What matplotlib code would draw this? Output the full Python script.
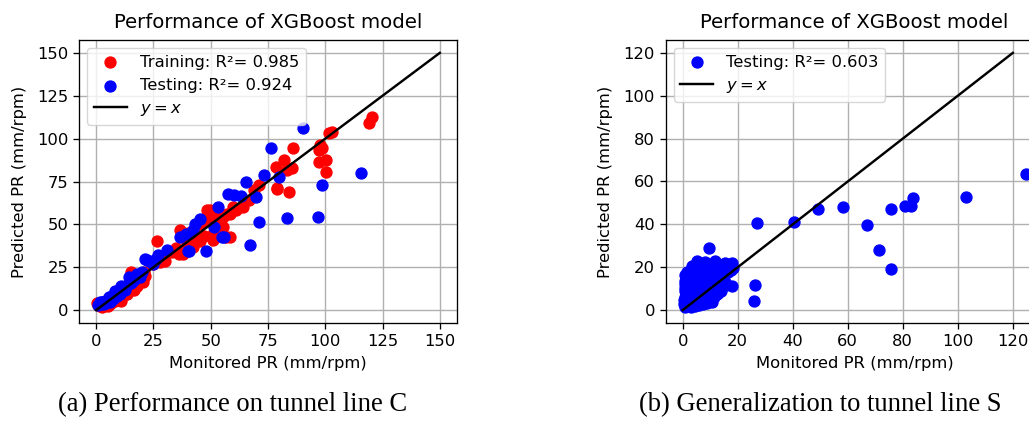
import matplotlib
matplotlib.use("Agg")
import matplotlib.pyplot as plt
import numpy as np

# ---------------- data ----------------
# (a) tunnel line C : training set
train_x = [0.5, 1.0, 1.5, 2.0, 2.5, 3.0, 3.5, 4.0, 4.5, 5.0, 5.5, 6.0, 6.5, 7.0, 7.5,
           8.0, 8.5, 9.0, 9.5, 10.0, 10.5, 11.0, 11.5, 12.0, 12.5, 13.0, 13.5, 14.0,
           14.5, 15.0, 15.5, 16.0, 16.5, 17.0, 17.5, 18.0, 18.5, 19.0, 19.5, 20.0,
           20.5, 21.0, 21.5, 15.2, 16.0,
           26.5, 28.0, 30.0, 27.0, 25.0, 33.0, 35.0, 36.0, 36.5, 37.9, 39.4, 39.8,
           40.0, 41.0, 42.3, 43.0, 44.0, 45.2, 45.2, 47.0, 48.1, 48.5, 49.5, 50.9,
           51.0, 52.4, 52.9, 55.3, 55.3, 56.7, 57.2, 58.2, 58.2, 59.6, 61.1, 63.9,
           66.8, 69.0, 71.2,
           78.4, 79.1, 79.1, 82.0, 83.4, 84.2, 85.6, 85.9, 97.2, 97.9, 98.6, 97.2,
           100.1, 100.1, 101.5, 103.0, 118.9, 120.3]
train_y = [4.0, 3.0, 2.5, 3.5, 2.0, 3.0, 2.5, 4.5, 3.0, 2.5, 4.0, 3.5, 5.0, 4.5, 6.0,
           5.5, 7.0, 6.5, 8.0, 7.0, 9.0, 5.5, 10.0, 9.0, 11.0, 10.5, 9.5, 12.0,
           13.5, 11.5, 14.0, 12.5, 11.5, 15.0, 16.5, 14.0, 18.0, 17.0, 21.0, 19.5,
           16.5, 22.5, 20.0, 22.2, 20.0,
           40.5, 28.0, 28.5, 30.5, 27.0, 34.0, 36.5, 33.0, 46.5, 32.8, 42.5, 38.5,
           45.0, 41.0, 36.7, 44.0, 42.5, 40.6, 50.4, 43.0, 52.3, 58.2, 58.2, 44.5,
           41.0, 52.3, 54.3, 54.2, 48.4, 42.5, 56.3, 56.2, 42.5, 60.1, 58.2, 60.1,
           64.0, 69.9, 72.8,
           83.5, 71.5, 70.9, 87.5, 81.6, 68.9, 82.6, 94.3, 86.5, 96.3, 94.3, 93.3,
           87.5, 80.6, 103.1, 104.0, 109.0, 112.8]

# (a) tunnel line C : testing set
test_x = [1.0, 1.5, 2.0, 2.5, 3.0, 3.5, 4.0, 4.5, 5.0, 5.5, 6.0, 6.5, 7.0, 7.5, 8.0,
          8.2, 9.0, 9.5, 10.0, 10.5, 11.0, 11.5, 12.0, 12.5, 13.0, 14.0, 14.5, 15.0,
          16.0, 17.0, 18.0, 19.0, 20.0, 21.5, 22.3, 23.0, 25.0, 25.9, 27.2, 31.0,
          36.5, 39.4, 40.1, 40.5, 42.3, 43.0, 45.2, 48.1, 51.4, 53.1, 55.0, 55.8,
          57.4, 60.3, 63.2, 65.4, 67.3, 69.7, 71.2, 73.3, 76.2, 79.8, 83.4, 90.2,
          96.9, 98.6, 115.5]
test_y = [3.0, 4.5, 3.5, 4.5, 5.0, 3.5, 5.5, 4.5, 6.0, 7.5, 5.0, 7.0, 8.0, 6.5, 9.0,
          11.4, 8.5, 10.0, 11.0, 9.5, 14.3, 12.0, 13.0, 11.5, 14.0, 15.0, 19.2, 16.0,
          17.0, 18.0, 21.0, 19.5, 22.0, 30.0, 29.0, 28.9, 27.0, 29.9, 32.0, 34.8,
          42.5, 44.5, 34.7, 34.4, 46.5, 50.4, 53.3, 34.7, 48.4, 60.1, 42.9, 42.6,
          68.0, 67.0, 66.4, 74.8, 38.1, 66.0, 51.3, 78.7, 94.3, 77.7, 53.9, 106.0,
          54.2, 72.8, 79.7]

# (b) tunnel line S : generalization set
gen_x = [1.5, 2.5, 3.5, 4.5, 5.5, 6.5, 7.5, 8.5, 9.5, 10.5, 11.5, 12.5, 13.5, 14.5,
         15.5, 16.5, 17.5, 18.2,
         5.2, 8.2, 11.9, 15.5, 17.9, 3.5, 10.0, 13.8, 6.8,
         1.0, 2.0, 3.0, 4.0, 5.0, 6.0, 7.0, 8.0, 9.0, 10.0, 11.0, 12.0,
         1.2, 2.5, 4.0, 5.5, 7.0, 8.5, 10.0, 11.5, 13.0,
         1.0, 2.0, 3.0, 4.2, 5.5, 6.8, 8.0, 9.2, 10.5, 11.8, 13.0, 14.5,
         1.0, 2.3, 3.6, 5.0, 6.5, 8.0, 9.5, 11.0, 12.5, 15.5,
         1.0, 2.0, 3.0, 4.2, 5.5, 6.8, 8.0, 9.2, 10.5, 12.0, 13.5, 15.0,
         1.0, 2.2, 3.5, 4.8, 6.0, 7.5, 9.0, 10.5, 12.0, 14.0, 15.8,
         0.8, 1.8, 3.0, 4.0, 5.0, 6.5, 8.0, 9.5, 11.0, 12.5, 14.0,
         0.6, 1.5, 2.5, 3.5, 4.5, 5.5, 7.0, 8.5, 10.0, 11.5, 13.0,
         1.0, 2.0, 3.0, 4.5, 6.0, 7.5, 9.0, 10.5,
         0.5, 1.5, 3.0, 5.0,
         9.7, 18.0, 26.3, 25.9, 26.9, 40.3, 49.2, 58.2, 66.9, 71.3, 75.8, 75.6,
         80.7, 82.9, 83.7, 103.1, 124.9]
gen_y = [18.0, 18.0, 18.0, 18.0, 18.0, 18.0, 18.0, 18.0, 18.0, 18.0, 18.0, 18.0,
         18.0, 18.0, 18.0, 18.0, 18.5, 19.5,
         22.9, 22.4, 22.9, 21.8, 22.0, 20.5, 20.5, 20.8, 21.0,
         16.5, 16.5, 16.5, 16.5, 16.5, 16.5, 16.5, 16.5, 16.5, 16.5, 16.5, 16.5,
         15.0, 15.0, 15.0, 15.0, 15.0, 15.0, 15.0, 15.0, 16.0,
         13.5, 13.5, 13.5, 13.5, 13.5, 13.5, 13.5, 13.5, 14.0, 14.0, 14.5, 15.0,
         12.0, 12.0, 12.0, 12.0, 12.0, 12.0, 12.5, 13.0, 13.5, 13.0,
         10.5, 10.5, 10.5, 10.5, 10.5, 10.5, 11.0, 11.5, 11.5, 12.0, 12.0, 12.5,
         9.0, 9.0, 9.0, 9.0, 9.5, 10.0, 10.5, 10.0, 11.0, 11.0, 11.5,
         6.0, 6.0, 6.5, 7.0, 7.0, 7.5, 7.5, 8.0, 8.0, 7.5, 9.0,
         3.0, 3.5, 4.0, 4.5, 4.0, 4.5, 5.0, 5.5, 5.5, 6.0, 8.0,
         1.5, 2.0, 2.5, 2.0, 2.5, 3.0, 3.5, 4.0,
         4.5, 5.0, 1.5, 5.5,
         29.2, 11.1, 11.9, 4.1, 40.8, 41.3, 47.0, 48.1, 39.5, 28.0, 19.2, 47.3,
         48.6, 48.6, 52.5, 53.0, 63.4]

line_a = [0, 150]
line_b = [0, 120]

label_train = "Training: R\u00b2= 0.985"
label_test = "Testing: R\u00b2= 0.924"
label_gen = "Testing: R\u00b2= 0.603"
title = "Performance of XGBoost model"
xlab = "Monitored PR (mm/rpm)"
ylab = "Predicted PR (mm/rpm)"
cap_a = "(a) Performance on tunnel line C"
cap_b = "(b) Generalization to tunnel line S"

# ---------------- figure ----------------
W, H = 1029, 422
fig = plt.figure(figsize=(W / 100, H / 100), dpi=100)

FS = 11.8
plt.rcParams.update({
    "font.family": ["DejaVu Sans"],
    "xtick.labelsize": FS, "ytick.labelsize": FS,
    "xtick.major.size": 4.1, "ytick.major.size": 4.1,
    "xtick.major.width": 0.95, "ytick.major.width": 0.95,
    "axes.linewidth": 0.95,
})

def px_axes(left, top, right, bottom):
    return fig.add_axes([left / W, 1 - bottom / H, (right - left) / W, (bottom - top) / H])

ms = 62
ax1 = px_axes(79, 40, 457, 323)
ax1.scatter(train_x, train_y, s=ms, c="red", label=label_train, zorder=2)
ax1.scatter(test_x, test_y, s=ms, c="blue", label=label_test, zorder=2)
ax1.plot(line_a, line_a, color="black", lw=1.75, label="$y=x$", zorder=3)
ax1.set_xticks([0, 25, 50, 75, 100, 125, 150])
ax1.set_yticks([0, 25, 50, 75, 100, 125, 150])

ax2 = px_axes(665.5, 40, 1043.5, 323)
ax2.scatter(gen_x, gen_y, s=ms, c="blue", label=label_gen, zorder=2)
ax2.plot(line_b, line_b, color="black", lw=1.75, label="$y=x$", zorder=3)
ax2.set_xticks([0, 20, 40, 60, 80, 100, 120])
ax2.set_yticks([0, 20, 40, 60, 80, 100, 120])

for ax in (ax1, ax2):
    ax.grid(True, color="#b0b0b0", lw=1.0)
    ax.set_axisbelow(True)
    ax.set_title(title, fontsize=14.2, pad=8.5)
    ax.set_xlabel(xlab, fontsize=FS, labelpad=5.5)
    ax.set_ylabel(ylab, fontsize=FS, labelpad=7.5)
    ax.legend(loc="upper left", fontsize=FS, framealpha=0.8)

fig.text(233 / W, 1 - 405 / H, cap_a, family="Liberation Serif", fontsize=19.2,
         ha="center", va="center")
fig.text(820 / W, 1 - 405 / H, cap_b, family="Liberation Serif", fontsize=19.2,
         ha="center", va="center")

fig.savefig("out.png", dpi=100)
